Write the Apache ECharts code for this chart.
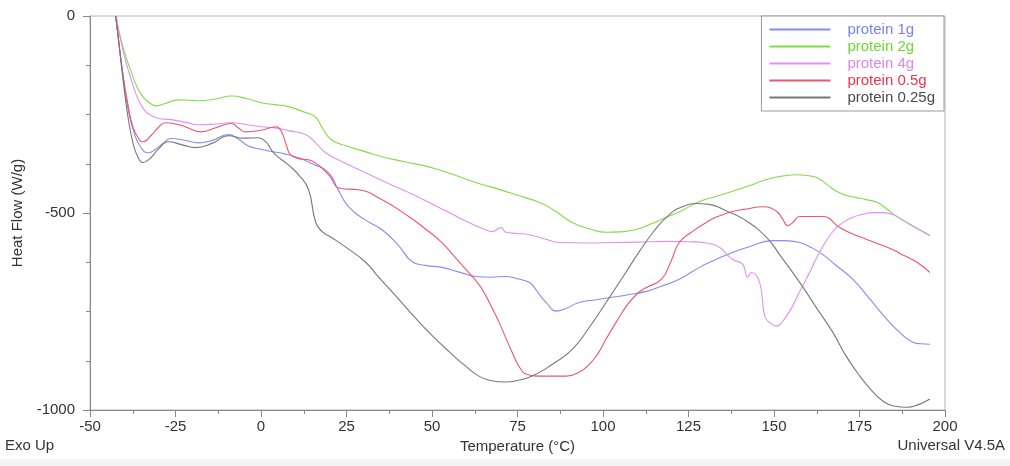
<!DOCTYPE html>
<html>
<head>
<meta charset="utf-8">
<title>DSC heat flow</title>
<script src="https://cdn.jsdelivr.net/npm/echarts@6/dist/echarts.min.js"></script>
<style>
  html, body { margin: 0; padding: 0; background: #fff; }
  #chart { width: 1010px; height: 466px; }
</style>
</head>
<body>
<div id="chart"></div>
<script>
// series names, in legend order
const seriesNames = ['protein 1g', 'protein 2g', 'protein 4g', 'protein 0.5g', 'protein 0.25g']
const seriesColors = ['#878bf3', '#80dc48', '#e290f2', '#f0546e', '#787878']
const legendTextColors = ['#7b80f0', '#6ad82e', '#dc86ee', '#f0334f', '#4a4a4a']

// [temperature (°C), heat flow (W/g)]
const protein1g = [
  [-42.5, 0], [-41.8, -50], [-40.5, -140], [-39, -230], [-37, -300], [-35, -335], [-33, -347],
  [-30.9, -339], [-28.5, -322], [-26.3, -311], [-22, -316], [-18.3, -322], [-14, -315], [-9.6, -301],
  [-6.5, -313], [-3.7, -330], [0, -338], [3, -344], [7, -350], [11, -360], [15, -375], [19.8, -398],
  [22.5, -440], [25.6, -484], [30, -515], [35.3, -542], [40, -580], [44.1, -623], [48, -633],
  [52.9, -638], [58, -650], [62.8, -661], [67, -663], [71.6, -661], [75, -667], [78.4, -676],
  [80, -690], [81.3, -706], [83.5, -728], [86.3, -749], [89, -743], [93, -727], [98, -720],
  [102.7, -714], [107, -708], [112.7, -699], [117, -686], [122.3, -668], [128.2, -638], [133, -618],
  [137.9, -600], [143, -585], [149.6, -570], [153, -570], [157.5, -575], [161, -588], [164.2, -605],
  [168, -632], [173, -668], [178, -718], [183, -770], [187, -805], [190.6, -828], [193, -832], [195.6, -833]
]
const protein2g = [
  [-42.5, 0], [-41.5, -40], [-40, -90], [-38, -140], [-36, -185], [-34, -210], [-32, -224],
  [-30.7, -228], [-28, -222], [-24.2, -213], [-18.3, -215], [-13, -210], [-8.7, -203], [-4, -210],
  [0.1, -220], [4, -225], [8, -230], [13, -245], [15.9, -256], [18, -285], [20.6, -314], [25, -330],
  [30, -343], [35.3, -357], [42, -370], [50, -385], [57, -405], [63.7, -425], [69.6, -440],
  [75, -455], [81.3, -473], [86, -495], [91, -524], [96, -540], [100.9, -549], [105, -548],
  [109.7, -542], [114, -528], [118.5, -511], [123, -494], [128.2, -471], [133, -458], [137.9, -445],
  [143, -430], [147.8, -415], [152, -407], [156.6, -403], [159.5, -405], [162.5, -410], [165.5, -428],
  [168.3, -445], [171, -455], [174.2, -461], [177, -466], [180.1, -473], [183, -490], [185.9, -509],
  [190, -530], [195.6, -557]
]
const protein4g = [
  [-42.3, 0], [-41.5, -40], [-40, -100], [-38, -160], [-36, -210], [-34, -240], [-32, -253],
  [-30, -260], [-26.3, -263], [-22, -270], [-18.3, -276], [-13, -274], [-8.7, -271], [-4, -276],
  [0.1, -281], [4, -284], [8, -291], [13, -301], [16, -322], [18.9, -347], [25, -375], [30.6, -398],
  [36, -420], [41.1, -440], [48, -468], [55, -499], [61, -525], [65, -540], [67.5, -547],
  [70.2, -537], [71.6, -549], [75, -552], [78.4, -555], [83, -566], [87.2, -575], [95, -576],
  [102.7, -575], [110, -574], [118.5, -572], [125, -573], [130.2, -576], [134, -587], [136, -603],
  [137.9, -618], [140.8, -630], [142.3, -663], [143.4, -651], [145.8, -676], [147.3, -762],
  [149, -780], [150.8, -787], [152.5, -775], [154.6, -749], [157.5, -700], [160.4, -651],
  [163.5, -597], [167.2, -547], [170, -525], [173, -511], [176, -503], [178.9, -499], [182, -499],
  [184.8, -504], [188, -520], [191.5, -538], [195.6, -557]
]
const protein05g = [
  [-42.5, 0], [-41.8, -50], [-40.5, -140], [-39, -220], [-37.5, -280], [-35.5, -315], [-34.5, -319],
  [-32, -302], [-30, -283], [-28, -271], [-25, -274], [-22.2, -281], [-17.5, -294], [-13, -283],
  [-8.7, -273], [-6.5, -285], [-4.6, -294], [0, -290], [4.5, -281], [6, -294], [7.5, -330],
  [8.6, -352], [11, -362], [13.9, -365], [17, -380], [19.8, -403], [23.3, -438], [28.5, -441],
  [35.3, -466], [43.2, -509], [48, -540], [52.9, -575], [56, -605], [59.9, -643], [63.7, -681],
  [65.8, -711], [67.5, -740], [69.6, -777], [73, -845], [76.3, -901], [78.5, -911], [81.3, -914],
  [89.2, -914], [93, -904], [96, -884], [98.5, -857], [100.9, -820], [104, -775], [106.8, -737],
  [110, -705], [112.7, -689], [117.1, -668], [120, -620], [122.3, -575], [126, -548], [130.2, -524],
  [133, -511], [137.9, -496], [142, -490], [146.7, -484], [150.8, -496], [152.5, -515], [154, -532],
  [155.5, -524], [157.5, -509], [164.2, -509], [169.2, -537], [173, -553], [177.1, -567], [181, -580],
  [184.8, -593], [188, -608], [191.8, -625], [195.6, -651]
]
const protein025g = [
  [-42.5, 0], [-41.8, -50], [-40.5, -150], [-39, -250], [-37.5, -320], [-36, -358], [-34.5, -372],
  [-32.5, -362], [-30, -338], [-27.1, -319], [-23, -327], [-19.2, -334], [-14, -322], [-9.6, -304],
  [-5, -310], [-0.8, -309], [1.5, -320], [3, -339], [4.2, -352], [8, -378], [11, -403], [13.9, -441],
  [16, -524], [18, -548], [20.6, -562], [25, -588], [30.6, -625], [34.4, -663], [40.3, -719],
  [45, -765], [49.1, -803], [55, -852], [60, -890], [63.7, -914], [67, -925], [71.6, -929], [75, -925],
  [79.3, -914], [85, -885], [91, -846], [96, -790], [100.9, -727], [106, -660], [110.6, -598],
  [115, -545], [119.4, -504], [123, -485], [127.3, -476], [131, -478], [136.1, -495], [141, -515],
  [147.8, -562], [152, -610], [157.5, -676], [162, -735], [167.2, -803], [171, -862], [175.1, -914],
  [178.5, -950], [181.8, -977], [185, -990], [188.9, -993], [192, -987], [195.6, -972]
]
const seriesData = [protein1g, protein2g, protein4g, protein05g, protein025g]

const fontFamily = "'Liberation Sans', Arial, sans-serif"

const chart = echarts.init(document.getElementById('chart'))

const option = {
  animation: false,
  backgroundColor: '#fff',
  textStyle: { fontFamily },
  grid: {
    left: 90,
    right: 65,
    top: 16,
    bottom: 56,
    show: true,
    borderColor: '#b4b4b4',
    borderWidth: 1
  },
  legend: {
    orient: 'vertical',
    right: 66,
    top: 16,
    padding: [5, 9, 5, 8],
    borderColor: '#9a9a9a',
    borderWidth: 1,
    backgroundColor: '#fff',
    itemGap: 0,
    itemWidth: 61,
    itemHeight: 2,
    icon: 'rect',
    textStyle: { fontSize: 15, lineHeight: 17, padding: [0, 0, 0, 12], fontFamily },
    data: seriesNames.map((name, i) => ({ name, textStyle: { color: legendTextColors[i] } }))
  },
  xAxis: {
    type: 'value',
    min: -50,
    max: 200,
    interval: 25,
    name: 'Temperature (°C)',
    nameLocation: 'middle',
    nameGap: 29,
    nameTextStyle: { fontSize: 15, color: '#333', fontFamily },
    axisLine: { onZero: false, lineStyle: { color: '#888' } },
    axisTick: { show: true, length: 7, lineStyle: { color: '#888' } },
    minorTick: { show: true, splitNumber: 2, length: 4, lineStyle: { color: '#888' } },
    splitLine: { show: false },
    axisLabel: { fontSize: 15, color: '#333', margin: 9, fontFamily }
  },
  yAxis: {
    type: 'value',
    min: -1000,
    max: 0,
    interval: 500,
    name: 'Heat Flow (W/g)',
    nameLocation: 'middle',
    nameGap: 57,
    nameTextStyle: { fontSize: 15, color: '#333', fontFamily },
    axisLine: { show: true, onZero: false, lineStyle: { color: '#888' } },
    axisTick: { show: true, length: 7, lineStyle: { color: '#888' } },
    minorTick: { show: true, splitNumber: 4, length: 4, lineStyle: { color: '#888' } },
    splitLine: { show: false },
    axisLabel: { fontSize: 15, color: '#333', margin: 15, fontFamily, formatter: (v) => String(v) }
  },
  graphic: [
    {
      type: 'rect',
      left: 0,
      top: 459,
      shape: { width: 1010, height: 7 },
      style: { fill: '#f4f4f4' },
      silent: true
    },
    {
      type: 'text',
      left: 5,
      top: 438,
      style: { text: 'Exo Up', fontSize: 15, fill: '#333', fontFamily }
    },
    {
      type: 'text',
      right: 5,
      top: 438,
      style: { text: 'Universal V4.5A', fontSize: 15, fill: '#333', fontFamily }
    }
  ],
  series: seriesNames.map((name, i) => ({
    name,
    type: 'line',
    data: seriesData[i],
    symbol: 'none',
    smooth: 0.5,
    color: seriesColors[i],
    lineStyle: { width: 1.1, color: seriesColors[i] }
  }))
}

chart.setOption(option)
</script>
</body>
</html>
